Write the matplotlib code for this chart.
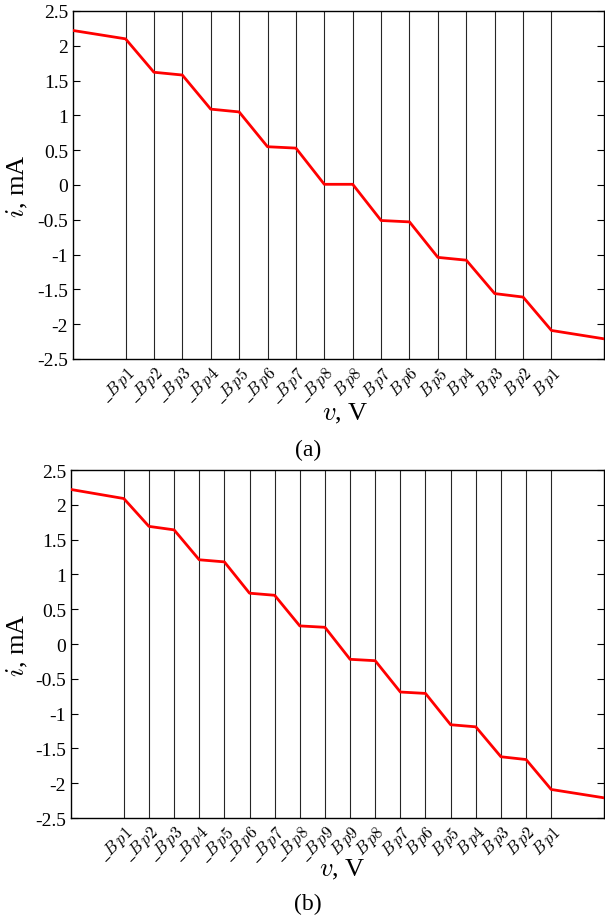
import matplotlib
matplotlib.use("Agg")
import matplotlib.pyplot as plt

plt.rcParams['font.family'] = ['Liberation Serif', 'DejaVu Serif']
plt.rcParams['mathtext.fontset'] = 'cm'
plt.rcParams['axes.unicode_minus'] = False

# Panel (a)
labels_a = [r'$\_B\,p1$', r'$\_B\,p2$', r'$\_B\,p3$', r'$\_B\,p4$', r'$\_B\,p5$', r'$\_B\,p6$', r'$\_B\,p7$', r'$\_B\,p8$',
            r'$B\,p8$', r'$B\,p7$', r'$B\,p6$', r'$B\,p5$', r'$B\,p4$', r'$B\,p3$', r'$B\,p2$', r'$B\,p1$']
bp_a = [-7.5, -6.5, -5.5, -4.5, -3.5, -2.5, -1.5, -0.5, 0.5, 1.5, 2.5, 3.5, 4.5, 5.5, 6.5, 7.5]
v_a = [-9.35, -7.5, -6.5, -5.5, -4.5, -3.5, -2.5, -1.5, -0.5, 0.5, 1.5, 2.5, 3.5, 4.5, 5.5, 6.5, 7.5, 9.35]
i_a = [2.22, 2.10, 1.62, 1.58, 1.09, 1.05, 0.55, 0.53, 0.01, 0.01, -0.51, -0.53, -1.04, -1.08, -1.56, -1.61, -2.09, -2.21]

# Panel (b)
labels_b = [r'$\_B\,p1$', r'$\_B\,p2$', r'$\_B\,p3$', r'$\_B\,p4$', r'$\_B\,p5$', r'$\_B\,p6$', r'$\_B\,p7$', r'$\_B\,p8$', r'$\_B\,p9$',
            r'$B\,p9$', r'$B\,p8$', r'$B\,p7$', r'$B\,p6$', r'$B\,p5$', r'$B\,p4$', r'$B\,p3$', r'$B\,p2$', r'$B\,p1$']
bp_b = [-8.5, -7.5, -6.5, -5.5, -4.5, -3.5, -2.5, -1.5, -0.5, 0.5, 1.5, 2.5, 3.5, 4.5, 5.5, 6.5, 7.5, 8.5]
v_b = [-10.6, -8.5, -7.5, -6.5, -5.5, -4.5, -3.5, -2.5, -1.5, -0.5, 0.5, 1.5, 2.5, 3.5, 4.5, 5.5, 6.5, 7.5, 8.5, 10.6]
i_b = [2.22, 2.09, 1.69, 1.64, 1.21, 1.18, 0.73, 0.70, 0.26, 0.24, -0.22, -0.24, -0.69, -0.71, -1.16, -1.19, -1.62, -1.66, -2.09, -2.21]

yticks = [-2.5, -2, -1.5, -1, -0.5, 0, 0.5, 1, 1.5, 2, 2.5]
yticklabels = ['-2.5', '-2', '-1.5', '-1', '-0.5', '0', '0.5', '1', '1.5', '2', '2.5']

fig = plt.figure(figsize=(6.05, 9.2), dpi=100)
ax_a = fig.add_axes([73/605, 1-360/920, 531/605, 348/920])
ax_b = fig.add_axes([71/605, 1-819/920, 533/605, 348/920])

def draw(ax, bp, labels, v, i, xlim, caption, cap_y, xl_pos, yl_x):
    for x in bp:
        ax.axvline(x, color='0.15', lw=0.8, zorder=1)
    ax.plot(v, i, color='red', lw=2, zorder=3)
    ax.set_xlim(*xlim)
    ax.set_ylim(-2.5, 2.5)
    ax.set_yticks(yticks)
    ax.set_yticklabels(yticklabels, fontsize=14)
    ax.set_xticks(bp)
    ax.set_xticklabels(labels, fontsize=12, rotation=45, ha='right', va='top', rotation_mode='anchor')
    ax.tick_params(axis='both', direction='in', right=True, top=False, length=5, width=0.8)
    ax.tick_params(axis='x', length=0, pad=3)
    for s in ax.spines.values():
        s.set_linewidth(1.0)
    ax.set_ylabel(r'$i$, mA', fontsize=19, va='center')
    ax.yaxis.set_label_coords(yl_x, 0.5)
    ax.set_xlabel(r'$v$, V', fontsize=19, va='center')
    ax.xaxis.set_label_coords(*xl_pos)
    fig.text(308/605, cap_y, caption, fontsize=17, ha='center', va='center')

draw(ax_a, bp_a, labels_a, v_a, i_a, (-9.35, 9.35), '(a)', 1-450/920, (0.512, -0.156), -0.105)
draw(ax_b, bp_b, labels_b, v_b, i_b, (-10.6, 10.6), '(b)', 1-904/920, (0.51, -0.145), -0.101)

fig.savefig('out.png', dpi=100)
